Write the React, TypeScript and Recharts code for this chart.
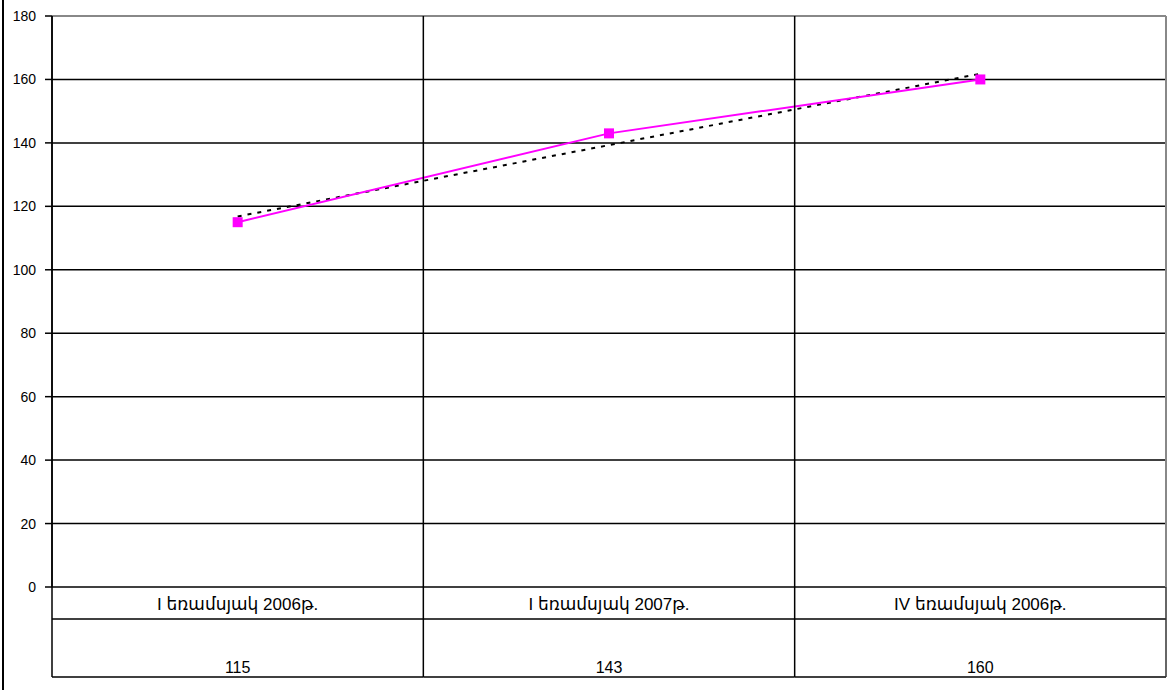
import React from 'react';
import {
  CartesianGrid,
  Line,
  LineChart,
  ReferenceLine,
  XAxis,
  YAxis,
} from 'recharts';

const categories = ['I եռամսյակ 2006թ.', 'I եռամսյակ 2007թ.', 'IV եռամսյակ 2006թ.'];
const values = [115, 143, 160];
// dotted linear trend line
const trend = [116.8, 139.3, 161.8];
const yTicks = [0, 20, 40, 60, 80, 100, 120, 140, 160, 180];

const data = categories.map((name, i) => ({
  pos: i + 1,
  name,
  value: values[i],
  trend: trend[i],
}));

const W = 1168;
const H = 690;
const PLOT_LEFT = 52;
const PLOT_RIGHT = 1166;
const PLOT_TOP = 16;
const PLOT_BOTTOM = 587;
const ROW_DIV = 619;
const TABLE_BOTTOM = 677;
const PLOT_W = PLOT_RIGHT - PLOT_LEFT;
const FONT = '"Liberation Sans", Arial, "DejaVu Sans", sans-serif';

const TableTick = (props: any) => {
  const { x, index } = props;
  const bw = PLOT_W / categories.length;
  const left = x - bw / 2;
  const right = x + bw / 2;
  const last = index === categories.length - 1;
  return (
    <g>
      <line x1={left} x2={right} y1={ROW_DIV} y2={ROW_DIV} stroke="#000" strokeWidth={1.5} />
      <line x1={left} x2={right} y1={TABLE_BOTTOM} y2={TABLE_BOTTOM} stroke="#000" strokeWidth={1.5} />
      <line x1={left} x2={left} y1={PLOT_TOP} y2={TABLE_BOTTOM} stroke="#000" strokeWidth={1.5} />
      {last && (
        <line x1={right} x2={right} y1={PLOT_BOTTOM} y2={TABLE_BOTTOM} stroke="#333" strokeWidth={1.5} />
      )}
      <text x={x} y={610} textAnchor="middle" fontSize={17} fontFamily={FONT} fill="#000">
        {categories[index]}
      </text>
      <text x={x} y={673} textAnchor="middle" fontSize={16} fontFamily={FONT} fill="#000">
        {values[index]}
      </text>
    </g>
  );
};

const SquareDot = (props: any) => {
  const { cx, cy } = props;
  if (cx == null || cy == null) return null;
  return <rect x={cx - 5} y={cy - 5} width={10} height={10} fill="#FF00FF" />;
};

export default function App() {
  return (
    <div style={{ position: 'absolute', left: 0, top: 0, width: W, height: H, background: '#fff' }}>
      <div style={{ position: 'absolute', left: 2, top: 0, width: 2, height: H, background: '#000' }} />
      <LineChart
        width={W}
        height={H}
        data={data}
        margin={{ top: PLOT_TOP, right: W - PLOT_RIGHT, bottom: 0, left: 0 }}
      >
        <CartesianGrid vertical={false} stroke="#000" strokeWidth={1.5} />
        <XAxis
          dataKey="pos"
          type="number"
          domain={[0.5, 3.5]}
          ticks={[1, 2, 3]}
          interval={0}
          height={H - PLOT_BOTTOM}
          tickLine={false}
          axisLine={false}
          tick={<TableTick />}
        />
        <YAxis
          domain={[0, 180]}
          ticks={yTicks}
          interval={0}
          width={PLOT_LEFT}
          tickSize={7}
          tickMargin={9}
          axisLine={{ stroke: '#000', strokeWidth: 1.5 }}
          tickLine={{ stroke: '#000', strokeWidth: 1.5 }}
          tick={{ fontSize: 14, fontFamily: FONT, fill: '#000' }}
        />
        <ReferenceLine y={180} stroke="#888" strokeWidth={2} />
        <ReferenceLine x={3.5} stroke="#888" strokeWidth={2} />
        <Line
          dataKey="trend"
          stroke="#000"
          strokeWidth={2}
          strokeDasharray="4 6"
          dot={false}
          isAnimationActive={false}
        />
        <Line
          dataKey="value"
          stroke="#FF00FF"
          strokeWidth={2}
          dot={<SquareDot />}
          activeDot={false}
          isAnimationActive={false}
        />
      </LineChart>
    </div>
  );
}
